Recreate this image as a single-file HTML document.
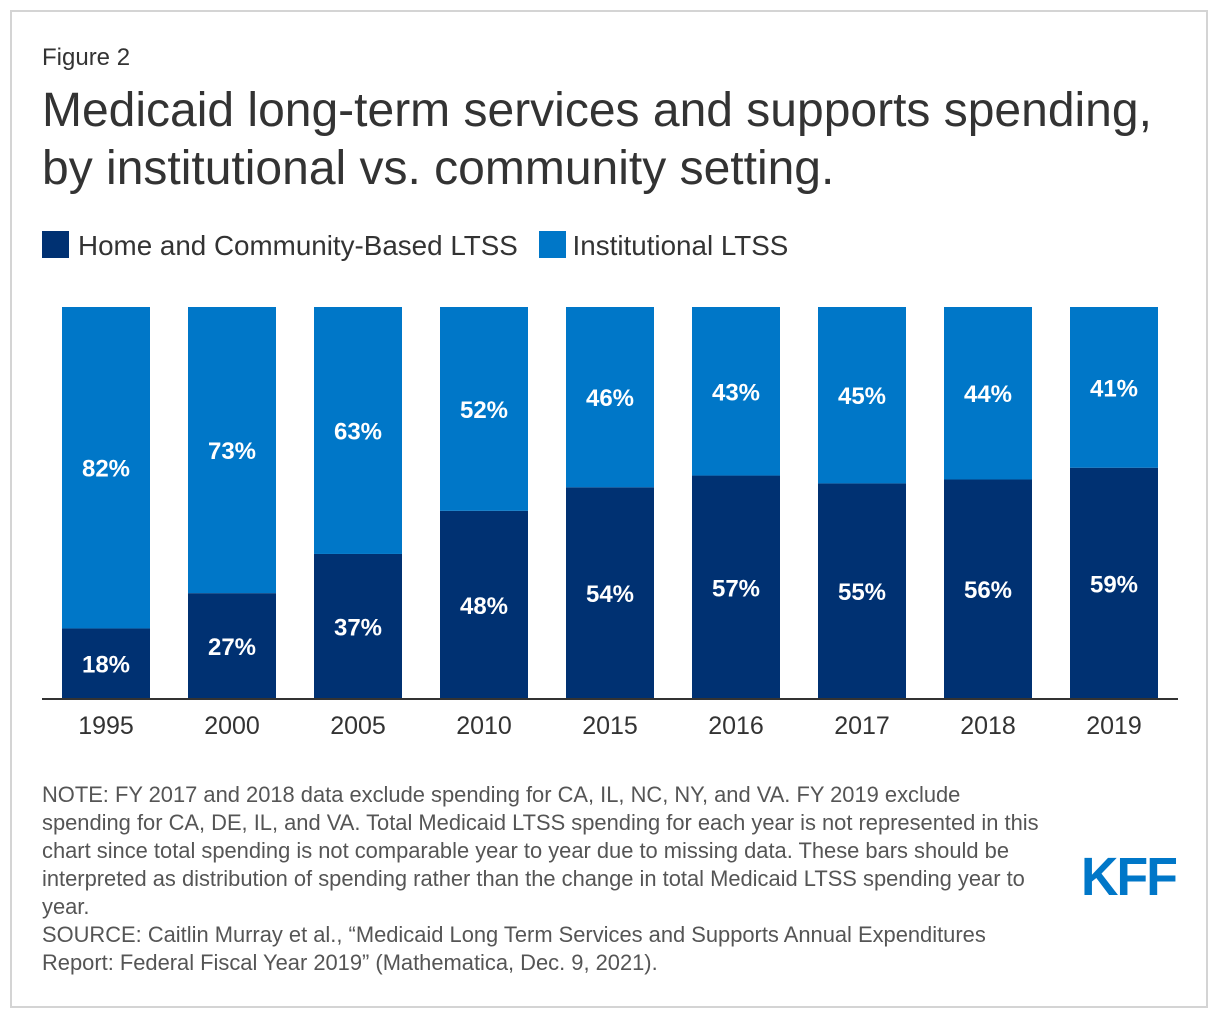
<!DOCTYPE html>
<html><head><meta charset="utf-8">
<style>
html,body{margin:0;padding:0;background:#fff;}
body{width:1220px;height:1020px;position:relative;font-family:"Liberation Sans",Arial,sans-serif;}
#frame{position:absolute;left:10px;top:10px;width:1198px;height:998px;border:2px solid #d4d4d4;box-sizing:border-box;}
.t{position:absolute;color:#333;}
</style></head>
<body>
<div id="frame"></div>
<div class="t" style="left:42px;top:44px;font-size:24px;">Figure 2</div>
<div class="t" style="left:42px;top:82px;font-size:48px;line-height:58px;white-space:nowrap;">Medicaid long-term services and supports spending,<br>by institutional vs. community setting.</div>
<div style="position:absolute;left:42px;top:230px;font-size:27.8px;color:#333;white-space:nowrap;">
  <span><span style="display:inline-block;width:27px;height:27px;background:#003172;vertical-align:-3px;margin-right:9px;"></span>Home and Community-Based LTSS</span>
  <span style="margin-left:13px;"><span style="display:inline-block;width:27px;height:27px;background:#0077c8;vertical-align:-3px;margin-right:7px;"></span>Institutional LTSS</span>
</div>
<svg id="chart" width="1220" height="1020" style="position:absolute;left:0;top:0;"></svg>
<div class="t" style="left:42px;top:781px;font-size:21.9px;line-height:28px;color:#555;white-space:nowrap;">NOTE: FY 2017 and 2018 data exclude spending for CA, IL, NC, NY, and VA. FY 2019 exclude<br>spending for CA, DE, IL, and VA. Total Medicaid LTSS spending for each year is not represented in this<br>chart since total spending is not comparable year to year due to missing data. These bars should be<br>interpreted as distribution of spending rather than the change in total Medicaid LTSS spending year to<br>year.<br>SOURCE: Caitlin Murray et al., “Medicaid Long Term Services and Supports Annual Expenditures<br>Report: Federal Fiscal Year 2019” (Mathematica, Dec. 9, 2021).</div>
<div style="position:absolute;left:1081px;top:847px;font-size:54px;font-weight:bold;color:#0077c8;letter-spacing:-2px;line-height:60px;transform:scaleX(0.96);transform-origin:left;">KFF</div>
<script>
const categories=["1995","2000","2005","2010","2015","2016","2017","2018","2019"];
const hcbs=[18,27,37,48,54,57,55,56,59];
const inst=[82,73,63,52,46,43,45,44,41];
const NS="http://www.w3.org/2000/svg";
const svg=document.getElementById('chart');
const top0=307,base=699,x0=62,step=126,bw=88;
const y=v=>base-(v/100)*(base-top0);
const xb=i=>x0+i*step;
function mk(tag,attrs){const e=document.createElementNS(NS,tag);for(const k in attrs)e.setAttribute(k,attrs[k]);svg.appendChild(e);return e;}
categories.forEach((c,i)=>{
  const hTop=y(hcbs[i]);
  const iTop=y(hcbs[i]+inst[i]);
  let r=mk('rect',{x:xb(i),y:hTop,width:bw,height:base-hTop,fill:'#003172'});
  
  
  r=mk('rect',{x:xb(i),y:iTop,width:bw,height:hTop-iTop,fill:'#0077c8'});
  
  
  let t=mk('text',{x:xb(i)+bw/2,y:(hTop+base)/2+9,'text-anchor':'middle','font-size':24,'font-weight':'bold',fill:'#fff'});
  t.textContent=hcbs[i]+'%';
  
  
  t=mk('text',{x:xb(i)+bw/2,y:(iTop+hTop)/2+9,'text-anchor':'middle','font-size':24,'font-weight':'bold',fill:'#fff'});
  t.textContent=inst[i]+'%';
  
  
  t=mk('text',{x:xb(i)+bw/2,y:734,'text-anchor':'middle','font-size':25,fill:'#333'});
  t.textContent=c;
  
  
});
const ax=mk('line',{x1:42,x2:1178,y1:base,y2:base,stroke:'#333','stroke-width':2});


</script>
</body></html>
